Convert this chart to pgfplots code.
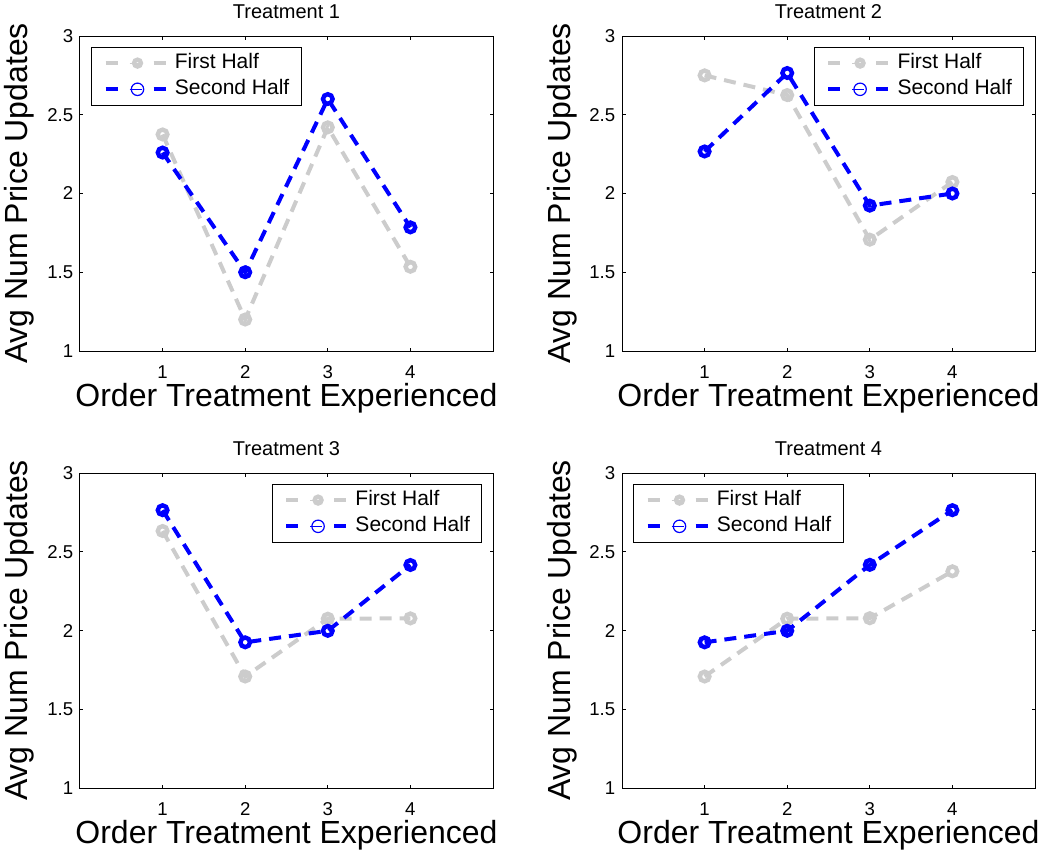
\documentclass[border=0pt]{standalone}
\usepackage{fontspec}
\setmainfont{Liberation Sans}
\usepackage{pgfplots}
\pgfplotsset{compat=1.18}

\definecolor{halfgray}{RGB}{204,204,204}
\definecolor{halfblue}{RGB}{0,0,255}

\pgfplotsset{
  panel/.style={
    scale only axis, width=206.5pt, height=157.5pt,
    xmin=0, xmax=5, ymin=1, ymax=3,
    xtick={1,2,3,4}, ytick={1,1.5,2,2.5,3},
    yticklabels={1,1.5,2,2.5,3},
    tick align=inside, major tick length=1.75pt,
    axis line style={line width=0.5pt},
    every tick/.style={black, line width=0.5pt},
    tick label style={font=\fontsize{9.3}{11}\selectfont, inner sep=0pt},
    /pgf/number format/assume math mode=true,
    yticklabel style={xshift=-3.2pt},
    xticklabel style={yshift=-7pt},
    % the default title style already shifts up by 6pt
    title style={at={([yshift=3pt]axis description cs:0.5,1)}, anchor=base,
      font=\fontsize{10}{12}\selectfont, inner sep=0pt},
    xlabel={Order Treatment Experienced},
    ylabel={Avg Num Price Updates},
    xlabel style={at={([yshift=-27.8pt]axis description cs:0.5,0)}, anchor=base,
      font=\fontsize{16}{19}\selectfont, inner sep=0pt},
    ylabel style={at={([xshift=-26pt]axis description cs:0,0.5)}, anchor=base,
      font=\fontsize{16}{19}\selectfont, inner sep=0pt},
    legend cell align=left,
    legend style={draw=black, line width=0.5pt, fill=white,
      inner xsep=6pt, inner ysep=3.1pt, row sep=3.3pt, column sep=3.7pt,
      font=\fontsize{10.5}{12.6}\selectfont,
      nodes={inner sep=0pt, text height=7.6pt, text depth=2.2pt}},
    legend image code/.code={
      \draw[##1, mark=none, dash pattern=on 6pt off 18pt] (0pt,0pt) -- (30pt,0pt);
      \draw[##1, mark=none, solid, line width=0.6pt] (12pt,0pt) -- (18pt,0pt);
      \draw[##1] plot coordinates {(16pt,0pt)};
    },
  },
  legNW/.style={legend style={at={(axis description cs:0,1)}, anchor=north west,
      xshift=5.5pt, yshift=-5.3pt}},
  legNE/.style={legend style={at={(axis description cs:1,1)}, anchor=north east,
      xshift=-5.3pt, yshift=-5.3pt}},
  firsthalf/.style={color=halfgray, line width=2pt, dash pattern=on 6pt off 4pt,
    mark=o, mark size=2.4pt, mark options={solid, line width=2.2pt},
    legend image post style={mark size=1.7pt, mark options={solid, line width=2.2pt}}},
  secondhalf/.style={color=halfblue, line width=2pt, dash pattern=on 6pt off 4pt,
    mark=o, mark size=2.4pt, mark options={solid, line width=2.2pt},
    legend image post style={mark size=3.1pt, mark options={solid, line width=0.6pt}}},
}

\begin{document}
\begin{tikzpicture}

% Treatment 1
\begin{axis}[panel, legNW, at={(40pt,-18pt)}, anchor=north west, title={Treatment 1}]
\addplot[firsthalf] coordinates {(1,2.375) (2,1.2) (3,2.42) (4,1.535)};
\addlegendentry{First Half}
\addplot[secondhalf] coordinates {(1,2.26) (2,1.5) (3,2.6) (4,1.785)};
\addlegendentry{Second Half}
\end{axis}

% Treatment 2
\begin{axis}[panel, legNE, at={(311pt,-18pt)}, anchor=north west, title={Treatment 2}]
\addplot[firsthalf] coordinates {(1,2.75) (2,2.625) (3,1.707) (4,2.073)};
\addlegendentry{First Half}
\addplot[secondhalf] coordinates {(1,2.267) (2,2.765) (3,1.923) (4,2.0)};
\addlegendentry{Second Half}
\end{axis}

% Treatment 3
\begin{axis}[panel, legNE, at={(40pt,-236.5pt)}, anchor=north west, title={Treatment 3}]
\addplot[firsthalf] coordinates {(1,2.632) (2,1.708) (3,2.075) (4,2.077)};
\addlegendentry{First Half}
\addplot[secondhalf] coordinates {(1,2.764) (2,1.925) (3,1.998) (4,2.416)};
\addlegendentry{Second Half}
\end{axis}

% Treatment 4
\begin{axis}[panel, legNW, at={(311pt,-236.5pt)}, anchor=north west, title={Treatment 4}]
\addplot[firsthalf] coordinates {(1,1.708) (2,2.075) (3,2.078) (4,2.376)};
\addlegendentry{First Half}
\addplot[secondhalf] coordinates {(1,1.925) (2,1.998) (3,2.417) (4,2.764)};
\addlegendentry{Second Half}
\end{axis}

\pgfresetboundingbox
\path[use as bounding box] (0pt,0pt) rectangle (521.5pt,-425.5pt);
\end{tikzpicture}
\end{document}
